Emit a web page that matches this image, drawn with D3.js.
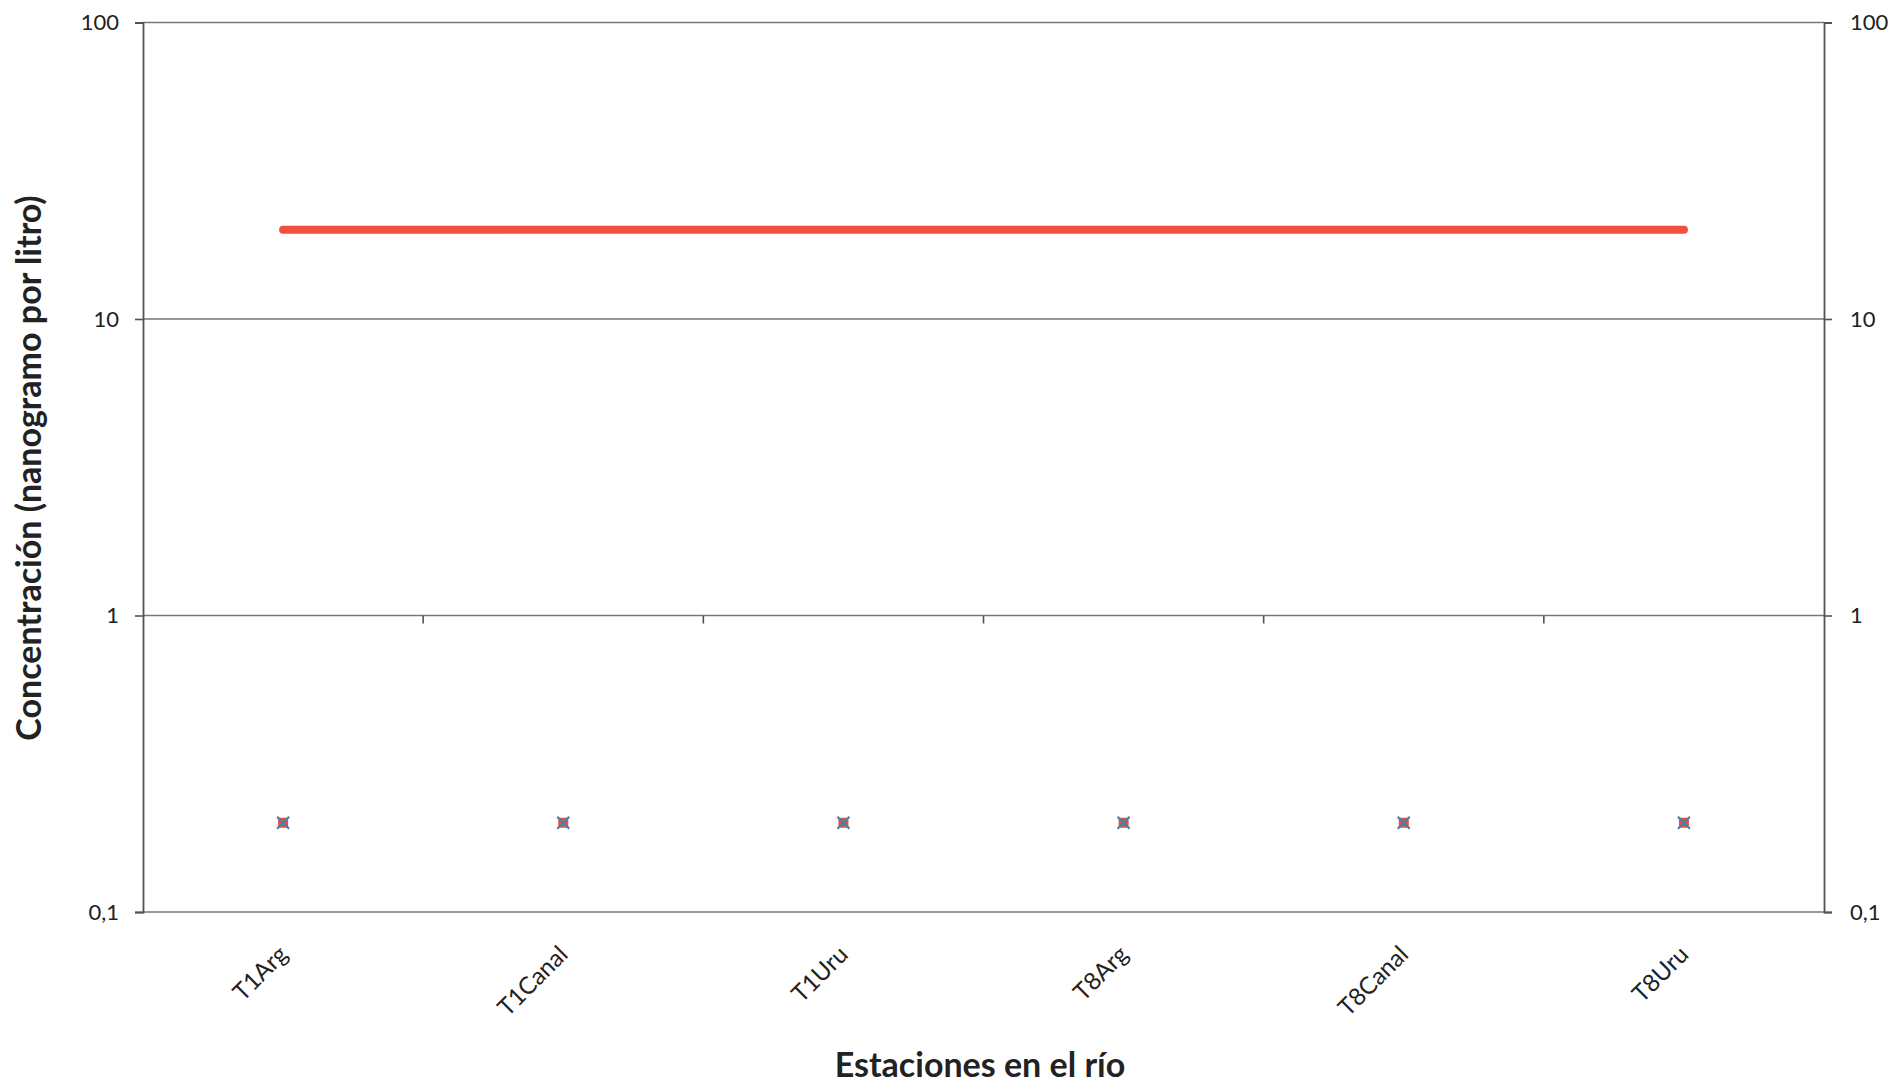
<!DOCTYPE html>
<html><head><meta charset="utf-8">
<script src="https://cdn.jsdelivr.net/npm/d3@7"></script>
<style>
html,body{margin:0;padding:0;background:#fff;}
svg{display:block;}
text{font-family:Lato,"Open Sans",sans-serif;fill:#222;}
</style></head>
<body>
<svg id="chart" width="1889" height="1083"></svg>
<script>
const categories = ["T1Arg","T1Canal","T1Uru","T8Arg","T8Canal","T8Uru"];
const limitValues = [20,20,20,20,20,20];
const seriesSquare = [0.2,0.2,0.2,0.2,0.2,0.2];
const seriesCross = [0.2,0.2,0.2,0.2,0.2,0.2];
const yTicks = [0.1,1,10,100];
const yTickLabels = ["0,1","1","10","100"];
const xTitle = "Estaciones en el río";
const yTitle = "Concentración (nanogramo por litro)";

(function(){
const svg = d3.select("#chart");
const mLeft = 143, mRight = 1824, mTop = 22.5, mBottom = 912;

const x = d3.scaleBand().domain(categories).range([mLeft, mRight]).padding(0);
const y = d3.scaleLog().domain([0.1, 100]).range([mBottom, mTop]);
const cx = d => x(d) + x.bandwidth()/2;

const gridColor = "#6e7c79";
const axisColor = "#4f5554";

svg.append("g").selectAll("line").data(yTicks).join("line")
  .attr("x1", mLeft).attr("x2", mRight)
  .attr("y1", d => y(d)).attr("y2", d => y(d))
  .attr("stroke", gridColor).attr("stroke-width", 1.6);

const yl = svg.append("g").attr("transform", `translate(${mLeft},0)`)
  .call(d3.axisLeft(y).tickValues(yTicks).tickFormat((d,i)=>yTickLabels[i]).tickSize(8).tickPadding(16));
const yr = svg.append("g").attr("transform", `translate(${mRight},0)`)
  .call(d3.axisRight(y).tickValues(yTicks).tickFormat((d,i)=>yTickLabels[i]).tickSize(8).tickPadding(18));
[yl, yr].forEach(g => {
  g.select(".domain").attr("stroke", axisColor).attr("stroke-width", 1.8);
  g.selectAll(".tick line").attr("stroke", axisColor).attr("stroke-width", 1.6);
  g.selectAll("text").attr("font-size", 22).attr("fill", "#222").attr("font-family", "Lato, sans-serif");
});

const boundaries = categories.slice(1).map(c => x(c));
svg.append("g").selectAll("line").data(boundaries).join("line")
  .attr("x1", d => d).attr("x2", d => d)
  .attr("y1", y(1)).attr("y2", y(1) + 8)
  .attr("stroke", axisColor).attr("stroke-width", 1.6);

svg.append("g").selectAll("text").data(categories).join("text")
  .attr("transform", d => `translate(${cx(d) + 6},${mBottom + 44}) rotate(-45)`)
  .attr("text-anchor", "end")
  .attr("font-size", 24)
  .text(d => d);

const line = d3.line().x((d,i) => cx(categories[i])).y(d => y(d));
svg.append("path").datum(limitValues)
  .attr("d", line)
  .attr("fill", "none").attr("stroke", "#f0503c")
  .attr("stroke-width", 8).attr("stroke-linecap", "round");

svg.append("g").selectAll("rect").data(seriesSquare).join("rect")
  .attr("x", (d,i) => cx(categories[i]) - 5)
  .attr("y", d => y(d) - 5)
  .attr("width", 10).attr("height", 10)
  .attr("fill", "#e8503e");

const crossG = svg.append("g");
seriesCross.forEach((d,i) => {
  const px = cx(categories[i]), py = y(d), s = 6;
  crossG.append("path")
    .attr("d", `M${px-s},${py-s}L${px+s},${py+s}M${px-s},${py+s}L${px+s},${py-s}`)
    .attr("stroke", "#4a7fa8").attr("stroke-width", 2.2).attr("fill", "none");
});

svg.append("text")
  .attr("x", 980).attr("y", 1077)
  .attr("text-anchor", "middle")
  .attr("font-size", 34).attr("font-weight", "bold")
  .attr("fill", "#333")
  .text(xTitle);

svg.append("text")
  .attr("transform", `translate(41,468) rotate(-90)`)
  .attr("text-anchor", "middle")
  .attr("font-size", 34).attr("font-weight", "bold")
  .attr("fill", "#333")
  .text(yTitle);
})();
</script>
</body></html>
